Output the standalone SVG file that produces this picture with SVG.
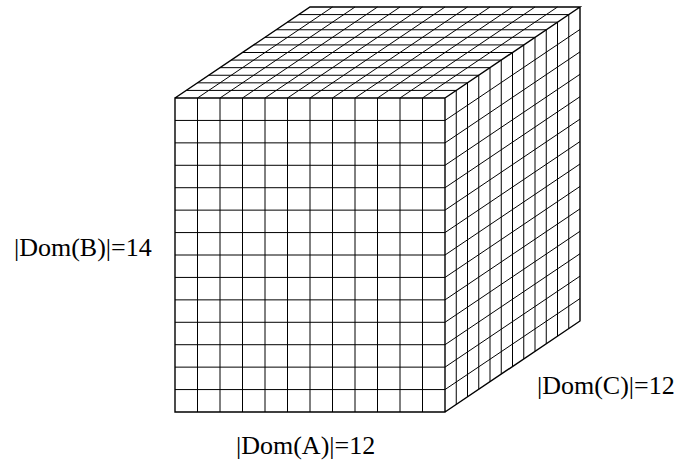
<svg xmlns="http://www.w3.org/2000/svg" width="680" height="466" viewBox="0 0 680 466">
<style>
.g{fill:none;stroke:#000;stroke-width:1}
.e{fill:none;stroke:#000;stroke-width:1.4}
.t{font-family:"Liberation Serif","Times New Roman",serif;font-size:26px;fill:#000}
</style>
<rect width="680" height="466" fill="#fff"/>
<g id="connectors">
<path class="g" d="M197.5 98v314M220 98v314M242.5 98v314M265 98v314M287.5 98v314M310 98v314M332.5 98v314M355 98v314M377.5 98v314M400 98v314M422.5 98v314
M175 120.43h270M175 142.86h270M175 165.29h270M175 187.71h270M175 210.14h270M175 232.57h270M175 255h270M175 277.43h270M175 299.86h270M175 322.29h270M175 344.71h270M175 367.14h270M175 389.57h270"/>
<path class="g" d="M186.25 90.42h270M197.5 82.83h270M208.75 75.25h270M220 67.67h270M231.25 60.08h270M242.5 52.5h270M253.75 44.92h270M265 37.33h270M276.25 29.75h270M287.5 22.17h270M298.75 14.58h270
M197.5 98l135 -91M220 98l135 -91M242.5 98l135 -91M265 98l135 -91M287.5 98l135 -91M310 98l135 -91M332.5 98l135 -91M355 98l135 -91M377.5 98l135 -91M400 98l135 -91M422.5 98l135 -91"/>
<path class="g" d="M456.25 90.42v314M467.5 82.83v314M478.75 75.25v314M490 67.67v314M501.25 60.08v314M512.5 52.5v314M523.75 44.92v314M535 37.33v314M546.25 29.75v314M557.5 22.17v314M568.75 14.58v314
M445 120.43l135 -91M445 142.86l135 -91M445 165.29l135 -91M445 187.71l135 -91M445 210.14l135 -91M445 232.57l135 -91M445 255l135 -91M445 277.43l135 -91M445 299.86l135 -91M445 322.29l135 -91M445 344.71l135 -91M445 367.14l135 -91M445 389.57l135 -91"/>
<path class="e" d="M175 98h270v314h-270zM175 98l135 -91h270l-135 91M580 7v314l-135 91"/>
</g>
<g id="label-b"><text class="t" x="14" y="256">|Dom(B)|=14</text></g>
<g id="label-a"><text class="t" x="236" y="454">|Dom(A)|=12</text></g>
<g id="label-c"><text class="t" x="537" y="394">|Dom(C)|=12</text></g>
</svg>
